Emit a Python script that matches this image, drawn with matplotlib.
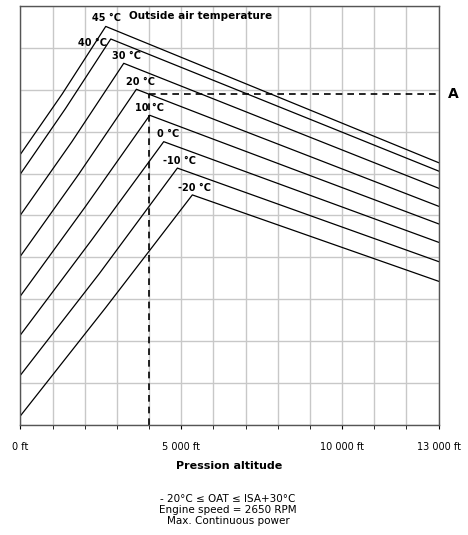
import matplotlib.pyplot as plt

# OAT curves: (altitude ft, power scale) start / mid / peak / end
temps = ['45 °C', '40 °C', '30 °C', '20 °C', '10 °C', '0 °C', '-10 °C', '-20 °C']
alt_pts = [
    [0, 1300, 2652, 13000],
    [0, 1400, 2808, 13000],
    [0, 1600, 3212, 13000],
    [0, 1800, 3605, 13000],
    [0, 2000, 4020, 13000],
    [0, 2200, 4455, 13000],
    [0, 2450, 4880, 13000],
    [0, 2650, 5345, 13000],
]
pwr_pts = [
    [6.46, 7.90, 9.51, 6.26],
    [5.99, 7.55, 9.21, 6.06],
    [5.01, 6.76, 8.63, 5.65],
    [4.03, 5.97, 8.01, 5.22],
    [3.08, 5.19, 7.39, 4.80],
    [2.15, 4.40, 6.76, 4.36],
    [1.19, 3.61, 6.13, 3.90],
    [0.22, 2.80, 5.49, 3.43],
]
label_pos = [(2673, 9.72), (2238, 9.12), (3295, 8.81), (3740, 8.19),
             (4020, 7.56), (4590, 6.94), (4952, 6.31), (5398, 5.65)]

# example reading
ex_alt = 4000
ex_pwr = 7.89

fig = plt.figure(figsize=(4.68, 5.35), dpi=100)
ax = fig.add_axes([0.0437, 0.2056, 0.8933, 0.7834])

for i in range(len(temps)):
    ax.plot(alt_pts[i], pwr_pts[i], color='black', lw=0.9)
    ax.text(label_pos[i][0], label_pos[i][1], temps[i], ha='center', va='center',
            fontsize=7, fontweight='bold', family='Liberation Sans Narrow', color='black')

ax.text(3377, 9.75, 'Outside air temperature', ha='left', va='center',
        fontsize=7.5, fontweight='bold')

ax.plot([ex_alt, ex_alt], [0, ex_pwr], color='black', lw=1.2, ls=(0, (4, 3)))
ax.plot([ex_alt, 13000], [ex_pwr, ex_pwr], color='black', lw=1.2, ls=(0, (4, 3)))
ax.text(13300, ex_pwr, 'A', ha='left', va='center', fontsize=10, fontweight='bold',
        clip_on=False)

ax.set_xlim(0, 13000)
ax.set_ylim(0, 10)
ax.set_xticks(range(0, 13001, 1000), minor=True)
ax.set_yticks(range(0, 11))
ax.set_yticklabels([])
ax.grid(True, which='both', color='#c8c8c8', lw=1.0)
ax.set_xticks([0, 5000, 10000, 13000])
ax.set_xticklabels(['0 ft', '5 000 ft', '10 000 ft', '13 000 ft'], fontsize=7)
ax.tick_params(axis='y', length=0)
ax.tick_params(axis='x', which='both', length=3, pad=9)
ax.set_axisbelow(True)
for s in ax.spines.values():
    s.set_color('#555555')
    s.set_linewidth(1.0)

fig.text(0.49, 1 - 466 / 535, 'Pression altitude', ha='center', va='center',
         fontsize=8, fontweight='bold')
fig.text(0.487, 1 - 494 / 535, '- 20°C ≤ OAT ≤ ISA+30°C\nEngine speed = 2650 RPM\nMax. Continuous power',
         ha='center', va='top', fontsize=7.5, linespacing=1.15)

fig.savefig('out.png', dpi=100)
